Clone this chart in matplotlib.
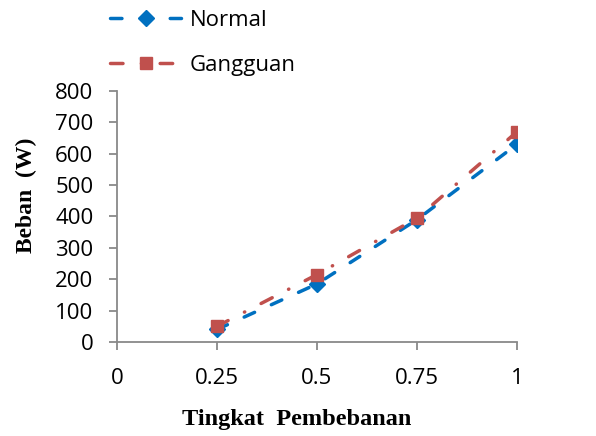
import matplotlib.pyplot as plt
from matplotlib.ticker import FixedLocator

load_level = [0.25, 0.5, 0.75, 1.0]
normal = [40, 185, 390, 630]
gangguan = [50, 215, 395, 670]

x_ticks = [0, 0.25, 0.5, 0.75, 1]
x_labels = ["0", "0.25", "0.5", "0.75", "1"]
y_ticks = [0, 100, 200, 300, 400, 500, 600, 700, 800]

sans = ["Open Sans", "DejaVu Sans"]
serif = "Liberation Serif"

fig = plt.figure(figsize=(5.96, 4.36), dpi=100)
ax = fig.add_axes([0.1963, 0.2156, 0.6711, 0.5757])

ax.plot(load_level, normal, color="#0070C0", lw=2.5, dashes=(3.3, 5.3),
        dash_capstyle="round", marker="D", ms=8, label="Normal", zorder=3)
ax.plot(load_level, gangguan, color="#C0504D", lw=2.5,
        dashes=(3.6, 5.3, 0.1, 5.3), dash_capstyle="round",
        marker="s", ms=9, label="Gangguan", zorder=4)

ax.set_xlim(0, 1)
ax.set_ylim(0, 800)
ax.xaxis.set_major_locator(FixedLocator(x_ticks))
ax.set_xticklabels(x_labels)
ax.set_yticks(y_ticks)

for side in ["top", "right"]:
    ax.spines[side].set_visible(False)
for side in ["left", "bottom"]:
    ax.spines[side].set_color("#898989")
    ax.spines[side].set_linewidth(1.3)
ax.tick_params(axis="both", direction="out", color="#898989", width=1.3,
               length=6, labelsize=16)
ax.tick_params(axis="x", pad=13)
ax.tick_params(axis="y", pad=11)
for lbl in ax.get_xticklabels() + ax.get_yticklabels():
    lbl.set_family(sans)

ax.set_xlabel("Tingkat  Pembebanan", family=serif, fontweight="bold",
              fontsize=17.5)
ax.set_ylabel("Beban  (W)", family=serif, fontweight="bold", fontsize=17)
ax.xaxis.set_label_coords(0.45, -0.268)
ax.yaxis.set_label_coords(-0.2, 0.585)

fig.legend(loc="upper left", bbox_to_anchor=(0.1846, 0.978), frameon=False,
           prop={"family": sans, "size": 16}, handlelength=3.2,
           labelspacing=1.1, handletextpad=0.4, borderpad=0,
           borderaxespad=0)

fig.savefig("out.png", dpi=100)
